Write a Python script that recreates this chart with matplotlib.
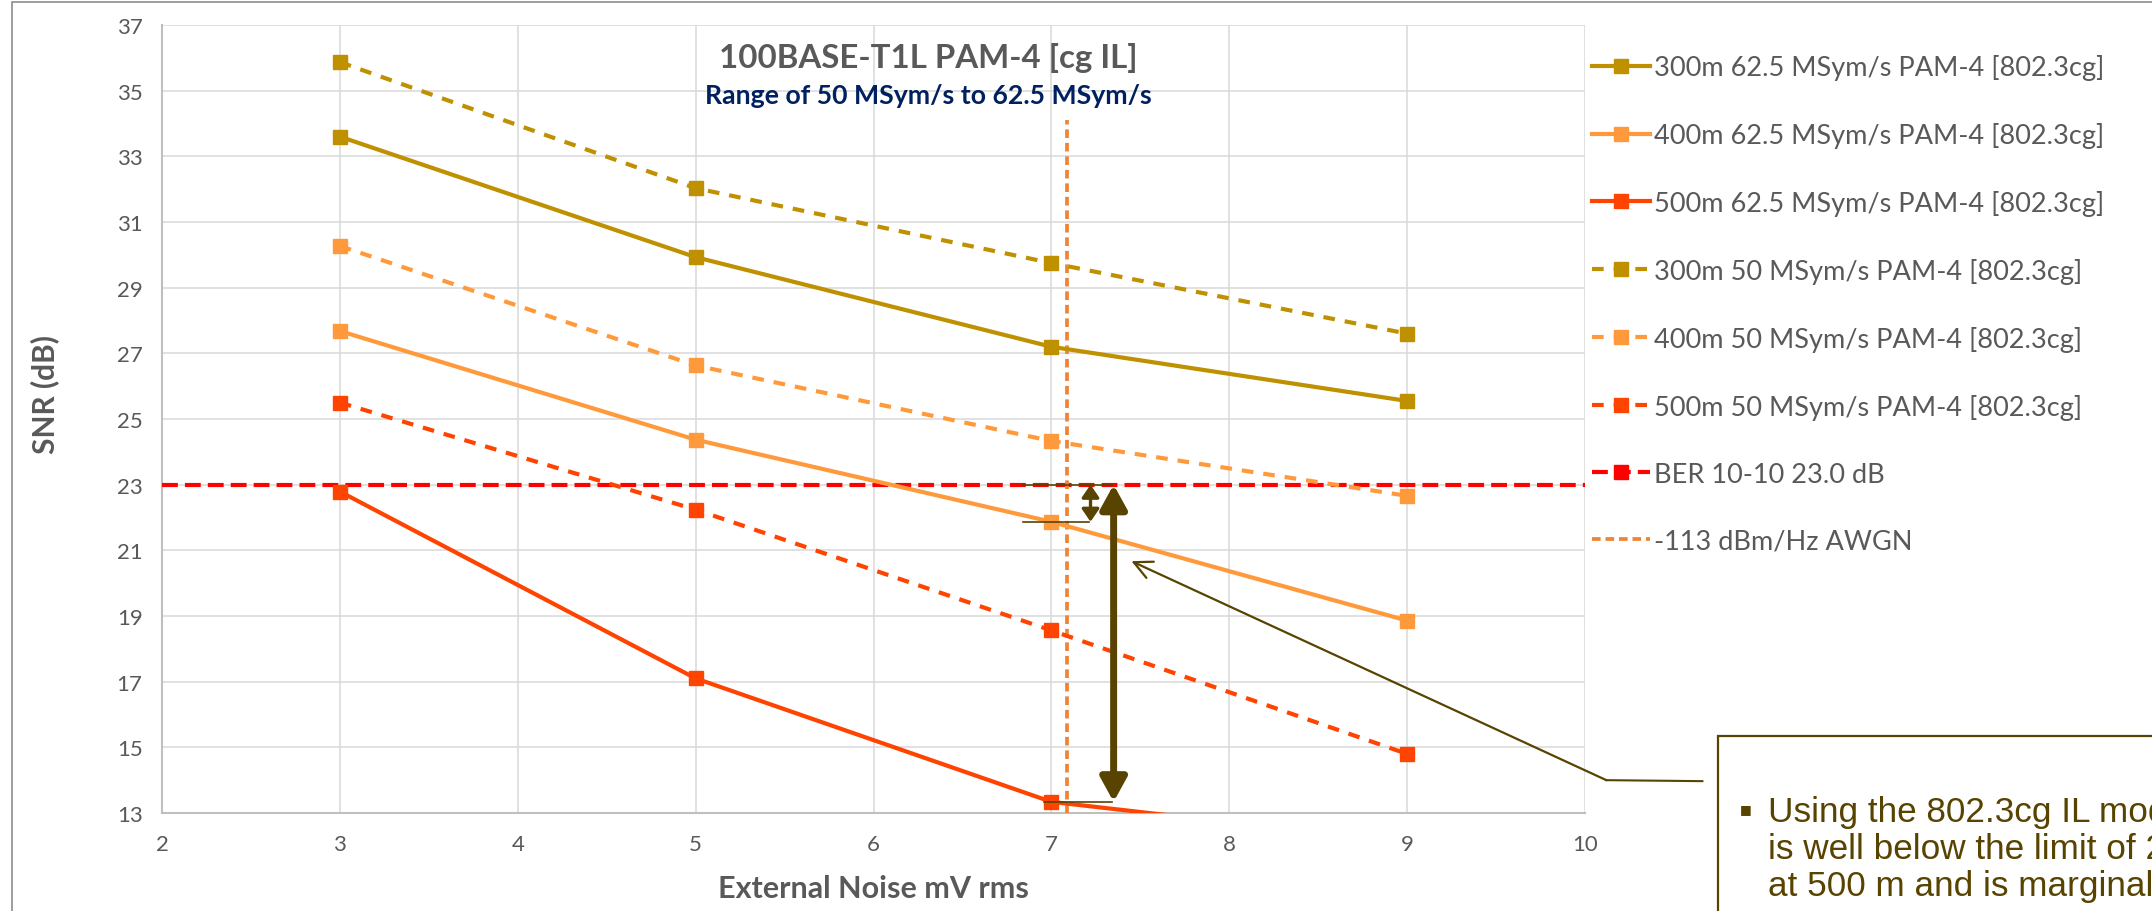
import matplotlib
matplotlib.use("Agg")
import matplotlib.pyplot as plt
from matplotlib.lines import Line2D
from matplotlib.patches import Rectangle

# ---------------- data ----------------
noise_mv = [3, 5, 7, 9]
snr_300_625 = [33.6, 29.93, 27.2, 25.55]
snr_400_625 = [27.68, 24.37, 21.87, 18.86]
snr_500_625 = [22.79, 17.1, 13.34, 12.1]
snr_300_50 = [35.87, 32.03, 29.75, 27.6]
snr_400_50 = [30.27, 26.63, 24.33, 22.66]
snr_500_50 = [25.5, 22.24, 18.56, 14.8]
ber_x = [2, 10]
ber_snr = [23.0, 23.0]
awgn_x = [7.09, 7.09]
awgn_y = [13, 34.1]

labels = ["300m 62.5 MSym/s PAM-4 [802.3cg]",
          "400m 62.5 MSym/s PAM-4 [802.3cg]",
          "500m 62.5 MSym/s PAM-4 [802.3cg]",
          "300m 50 MSym/s PAM-4 [802.3cg]",
          "400m 50 MSym/s PAM-4 [802.3cg]",
          "500m 50 MSym/s PAM-4 [802.3cg]",
          "BER 10-10 23.0 dB",
          "-113 dBm/Hz AWGN"]
x_ticks = [2, 3, 4, 5, 6, 7, 8, 9, 10]
y_ticks = [13, 15, 17, 19, 21, 23, 25, 27, 29, 31, 33, 35, 37]

# ---------------- style ----------------
plt.rcParams['font.family'] = ['Lato', 'DejaVu Sans']
W, H = 2152, 912
c300 = '#BF9000'
c400 = '#FF9A3C'
c500 = '#FF4300'
cber = '#FF0000'
cawgn = '#EF8436'
cann = '#584400'
gray = '#595959'

fig = plt.figure(figsize=(W / 100, H / 100), dpi=100)
ax = fig.add_axes([162 / W, 1 - 814 / H, 1423 / W, 788 / H])

lw = 3.0
ms = 9.5
dash = (2.8, 2.4)
h1, = ax.plot(noise_mv, snr_300_625, color=c300, lw=lw, marker='s', ms=ms, zorder=4)
h2, = ax.plot(noise_mv, snr_400_625, color=c400, lw=lw, marker='s', ms=ms, zorder=4)
h3, = ax.plot(noise_mv, snr_500_625, color=c500, lw=lw, marker='s', ms=ms, zorder=4)
h4, = ax.plot(noise_mv, snr_300_50, color=c300, lw=lw, marker='s', ms=ms, dashes=dash, zorder=4)
h5, = ax.plot(noise_mv, snr_400_50, color=c400, lw=lw, marker='s', ms=ms, dashes=dash, zorder=4)
h6, = ax.plot(noise_mv, snr_500_50, color=c500, lw=lw, marker='s', ms=ms, dashes=dash, zorder=4)
ax.plot(ber_x, ber_snr, color=cber, lw=lw, dashes=(3.8, 1.7), zorder=3)
h8, = ax.plot(awgn_x, awgn_y, color=cawgn, lw=2.7, dashes=(2.3, 1.3), zorder=3)
h7 = Line2D([], [], color=cber, lw=lw, dashes=(3.8, 1.7), marker='s', ms=ms)

ax.set_xlim(2, 10)
ax.set_ylim(13, 37)
ax.set_xticks(x_ticks)
ax.set_yticks(y_ticks)
ax.grid(True, color='#D9D9D9', lw=1.1, zorder=0)
ax.set_axisbelow(True)
for s in ['top', 'right']:
    ax.spines[s].set_visible(False)
for s in ['left', 'bottom']:
    ax.spines[s].set_color('#BFBFBF')
    ax.spines[s].set_linewidth(1.5)
ax.tick_params(length=0, labelsize=16, labelcolor=gray)
ax.tick_params(axis='y', pad=14)
ax.tick_params(axis='x', pad=15)

# axis labels
fig.text(45 / W, 1 - 394 / H, "SNR (dB)", rotation=90, ha='center', va='center',
         fontsize=21.5, fontweight='bold', color=gray)
fig.text(873 / W, 1 - 889 / H, "External Noise mV rms", ha='center', va='center',
         fontsize=22, fontweight='bold', color=gray)

# titles
fig.text(928 / W, 1 - 58 / H, "100BASE-T1L PAM-4 [cg IL]", ha='center', va='center',
         fontsize=23.8, fontweight='bold', color=gray)
fig.text(928 / W, 1 - 96 / H, "Range of 50 MSym/s to 62.5 MSym/s", ha='center', va='center',
         fontsize=19.2, fontweight='bold', color='#002060')

# legend
fig.legend([h1, h2, h3, h4, h5, h6, h7, h8], labels, loc='upper left',
           bbox_to_anchor=(1592 / W, 1 - 55 / H), frameon=False, fontsize=19.5,
           labelcolor=gray, handlelength=2.15, handletextpad=0.15,
           labelspacing=1.55, borderaxespad=0, borderpad=0)

# annotation: gap markers
ber = ber_snr[0]
y400 = snr_400_625[2]
y500 = snr_500_625[2]
ax.plot([6.84, 7.34], [ber, ber], color=cann, lw=1.2, zorder=5)
ax.plot([6.84, 7.21], [y400, y400], color=cann, lw=1.2, zorder=5)
ax.plot([6.96, 7.34], [y500, y500], color=cann, lw=1.2, zorder=5)
ax.annotate('', xy=(7.22, y400), xytext=(7.22, ber),
            arrowprops=dict(arrowstyle='<|-|>,head_length=0.38,head_width=0.26',
                            color=cann, lw=2.4, mutation_scale=20, shrinkA=0, shrinkB=0),
            zorder=6)
ax.annotate('', xy=(7.35, y500), xytext=(7.35, ber),
            arrowprops=dict(arrowstyle='<|-|>,head_length=0.4,head_width=0.22',
                            color=cann, lw=5, mutation_scale=36, shrinkA=0, shrinkB=0),
            zorder=6)

# callout connector
ax.plot([10.66, 10.12], [13.97, 14.0], color=cann, lw=1.5, clip_on=False, zorder=6)
ax.annotate('', xy=(7.45, 20.67), xytext=(10.12, 14.0),
            arrowprops=dict(arrowstyle='->,head_length=0.65,head_width=0.32',
                            color=cann, lw=1.6, mutation_scale=20, shrinkA=0, shrinkB=0),
            annotation_clip=False, zorder=6)

# outer chart border (left and top visible)
fig.add_artist(Rectangle((12 / W, -0.05), 1.2, 1 - 3 / H + 0.05, transform=fig.transFigure,
                         fill=False, edgecolor='#8C8C8C', lw=1.2, zorder=0))

# text box
fig.add_artist(Rectangle((1718 / W, -0.1), 0.4, 1 - 737 / H + 0.1, transform=fig.transFigure,
                         facecolor='white', edgecolor=cann, lw=1.6, zorder=10))
fig.text(1746 / W, 1 - 810 / H, "\u25a0", ha='center', va='center', fontsize=9,
         color=cann, family='DejaVu Sans', zorder=11)
box_lines = ["Using the 802.3cg IL model the SNR",
             "is well below the limit of 23 dB",
             "at 500 m and is marginal at 400 m"]
for i, line in enumerate(box_lines):
    fig.text(1768 / W, 1 - (822 + 37 * i) / H, line, ha='left', va='baseline',
             fontsize=25.3, color=cann, family='Liberation Sans', zorder=11)

fig.savefig("out.png", dpi=100)
